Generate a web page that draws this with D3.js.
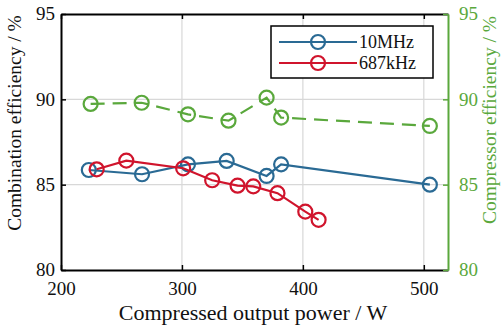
<!DOCTYPE html>
<html>
<head>
<meta charset="utf-8">
<script src="https://cdn.jsdelivr.net/npm/d3@7"></script>
</head>
<body style="margin:0">
<svg id="chart" width="501" height="331" font-family="'Times New Roman', 'Liberation Serif', Times, serif"></svg>
<script>
// data
var power10M = [223, 267, 305, 337, 370, 382, 505];
var eff10M = [85.86, 85.61, 86.19, 86.39, 85.51, 86.19, 85.0];
var power687k = [229.5, 254, 301, 325, 346, 359, 379, 402, 413];
var eff687k = [85.9, 86.41, 85.96, 85.26, 84.94, 84.9, 84.5, 83.42, 82.94];
var powerComp = [224.5, 266.7, 305, 338.5, 370, 382, 505];
var effComp = [89.73, 89.8, 89.12, 88.75, 90.1, 88.93, 88.44];
var xTicks = [200, 300, 400, 500];
var yTicks = [80, 85, 90, 95];

var blue = "#2a6a94", red = "#d0142c", green = "#5aa83c";
var fontList = "'Times New Roman', 'Liberation Serif', Times, serif";

var svg = d3.select("#chart");
var margin = { top: 14, right: 53, bottom: 61, left: 61 };
var width = 501 - margin.left - margin.right;
var height = 331 - margin.top - margin.bottom;

var xScale = d3.scaleLinear().domain([200, 520]).range([0, width]);
var yScale = d3.scaleLinear().domain([80, 95]).range([height, 0]);
var y2Scale = d3.scaleLinear().domain([80, 95]).range([height, 0]);

var g = svg.append("g").attr("transform", "translate(" + margin.left + "," + margin.top + ")");

// grid
g.selectAll(".vgrid").data([300, 400, 500]).enter().append("line")
    .attr("x1", d => xScale(d)).attr("x2", d => xScale(d))
    .attr("y1", 0).attr("y2", height)
    .attr("stroke", "#d8d8d8").attr("stroke-width", 1.2);
g.selectAll(".hgrid").data([85, 90]).enter().append("line")
    .attr("x1", 0).attr("x2", width)
    .attr("y1", d => yScale(d)).attr("y2", d => yScale(d))
    .attr("stroke", "#d8d8d8").attr("stroke-width", 1.2);

// axes
var xAxis = g.append("g").attr("transform", "translate(0," + height + ")")
    .call(d3.axisBottom(xScale).tickValues(xTicks).tickSizeInner(-5).tickSizeOuter(0).tickPadding(11));
var xTop = g.append("g")
    .call(d3.axisTop(xScale).tickValues(xTicks).tickSizeInner(-5).tickSizeOuter(0).tickFormat(""));
var yAxis = g.append("g")
    .call(d3.axisLeft(yScale).tickValues(yTicks).tickSizeInner(-5).tickSizeOuter(0).tickPadding(6));
var y2Axis = g.append("g").attr("transform", "translate(" + width + ",0)")
    .call(d3.axisRight(y2Scale).tickValues(yTicks).tickSizeInner(-5).tickSizeOuter(0).tickPadding(11));

[xAxis, xTop, yAxis, y2Axis].forEach(function(a) {
    a.attr("font-family", fontList).attr("font-size", 19);
});
[xAxis, xTop, yAxis].forEach(function(a) {
    a.select(".domain").attr("stroke", "#000").attr("stroke-width", 2);
    a.selectAll(".tick line").attr("stroke", "#000").attr("stroke-width", 1.5);
    a.selectAll("text").attr("fill", "#111");
});
y2Axis.select(".domain").attr("stroke", green).attr("stroke-width", 2);
y2Axis.selectAll(".tick line").attr("stroke", green).attr("stroke-width", 1.5);
y2Axis.selectAll("text").attr("fill", green);
yAxis.selectAll("text").attr("dy", "0.3em");
y2Axis.selectAll("text").attr("dy", "0.3em");
xAxis.selectAll("text").attr("dy", "0.72em");

// axis titles
svg.append("text").attr("x", 253).attr("y", 320)
    .attr("text-anchor", "middle").attr("font-size", 22).attr("fill", "#111")
    .text("Compressed output power / W");
svg.append("text").attr("transform", "translate(21,123) rotate(-90)")
    .attr("text-anchor", "middle").attr("font-size", 19.5).attr("fill", "#111")
    .text("Combination efficiency / %");
svg.append("text").attr("transform", "translate(496,120) rotate(-90)")
    .attr("text-anchor", "middle").attr("font-size", 19.5).attr("fill", green)
    .text("Compressor efficiency / %");

function series(xs, ys, scaleY, color, dash) {
    var pts = xs.map((x, i) => [x, ys[i]]);
    var line = d3.line().x(d => xScale(d[0])).y(d => scaleY(d[1]));
    g.append("path").datum(pts).attr("d", line)
        .attr("fill", "none").attr("stroke", color).attr("stroke-width", 2.2)
        .attr("stroke-dasharray", dash || null);
    g.selectAll(null).data(pts).enter().append("circle")
        .attr("cx", d => xScale(d[0])).attr("cy", d => scaleY(d[1])).attr("r", 7)
        .attr("fill", "none").attr("stroke", color).attr("stroke-width", 2.2);
}
series(powerComp, effComp, y2Scale, green, "14,8");
series(power10M, eff10M, yScale, blue);
series(power687k, eff687k, yScale, red);

// legend
var legend = svg.append("g");
legend.append("rect").attr("x", 271).attr("y", 26).attr("width", 162).attr("height", 52)
    .attr("fill", "#fff").attr("stroke", "#000").attr("stroke-width", 1.5);
[["10MHz", blue, 42], ["687kHz", red, 63]].forEach(function(d) {
    legend.append("line").attr("x1", 279).attr("x2", 357).attr("y1", d[2]).attr("y2", d[2])
        .attr("stroke", d[1]).attr("stroke-width", 2.2);
    legend.append("circle").attr("cx", 318).attr("cy", d[2]).attr("r", 7)
        .attr("fill", "none").attr("stroke", d[1]).attr("stroke-width", 2.2);
    legend.append("text").attr("x", 359).attr("y", d[2] + 6)
        .attr("font-size", 18).attr("fill", "#111").text(d[0]);
});
</script>
</body>
</html>
